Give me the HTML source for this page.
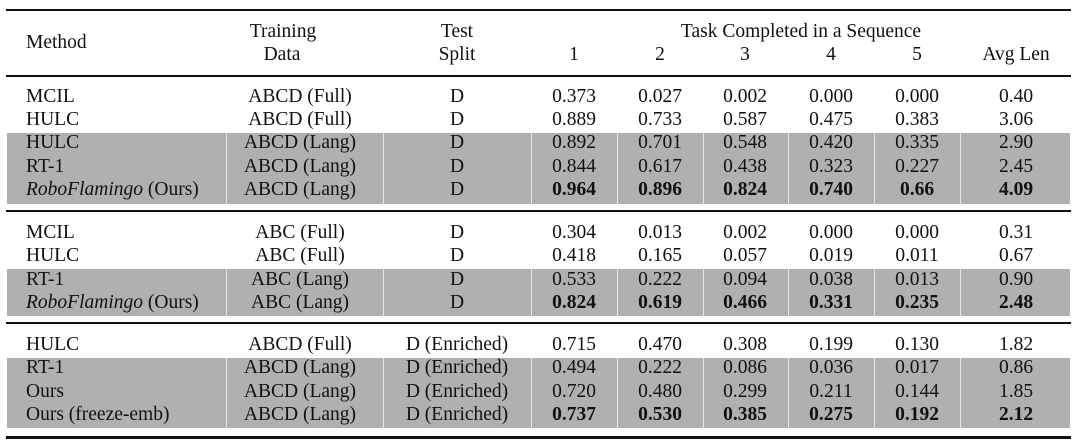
<!DOCTYPE html>
<html><head><meta charset="utf-8"><style>
body{margin:0;background:#fff;}
#t{position:relative;width:1080px;height:445px;font-family:"Liberation Serif",serif;font-size:19.5px;color:#111;overflow:hidden}
.c{position:absolute;height:24px;line-height:24px;white-space:nowrap;transform:translateX(-50%)}
.l{position:absolute;height:24px;line-height:24px;white-space:nowrap}
.rule{position:absolute;left:6px;width:1065px;background:#111}
.gray{position:absolute;left:7px;width:1063px;background:#b0b0b0}
.sep{position:absolute;width:1px;background:#e8e8e8}
b{font-weight:bold}
</style></head><body>
<div id="t">
<div class="rule" style="top:9px;height:2px"></div>
<div class="rule" style="top:75px;height:2px"></div>
<div class="rule" style="top:210px;height:2px"></div>
<div class="rule" style="top:322px;height:2px"></div>
<div class="rule" style="top:436px;height:3px"></div>
<div class="l" style="left:26px;top:31px">Method</div>
<div class="c" style="left:283px;top:20px">Training</div>
<div class="c" style="left:282px;top:43px">Data</div>
<div class="c" style="left:457px;top:20px">Test</div>
<div class="c" style="left:457px;top:43px">Split</div>
<div class="c" style="left:801px;top:20px">Task Completed in a Sequence</div>
<div class="c" style="left:574px;top:43px">1</div>
<div class="c" style="left:660px;top:43px">2</div>
<div class="c" style="left:745px;top:43px">3</div>
<div class="c" style="left:831px;top:43px">4</div>
<div class="c" style="left:917px;top:43px">5</div>
<div class="c" style="left:1016px;top:43px">Avg Len</div>
</div>
<script>
const methods=["MCIL","HULC","HULC","RT-1","<i>RoboFlamingo</i> (Ours)","MCIL","HULC","RT-1","<i>RoboFlamingo</i> (Ours)","HULC","RT-1","Ours","Ours (freeze-emb)"];
const trainData=["ABCD (Full)","ABCD (Full)","ABCD (Lang)","ABCD (Lang)","ABCD (Lang)","ABC (Full)","ABC (Full)","ABC (Lang)","ABC (Lang)","ABCD (Full)","ABCD (Lang)","ABCD (Lang)","ABCD (Lang)"];
const testSplit=["D","D","D","D","D","D","D","D","D","D (Enriched)","D (Enriched)","D (Enriched)","D (Enriched)"];
const task1=["0.373","0.889","0.892","0.844","0.964","0.304","0.418","0.533","0.824","0.715","0.494","0.720","0.737"];
const task2=["0.027","0.733","0.701","0.617","0.896","0.013","0.165","0.222","0.619","0.470","0.222","0.480","0.530"];
const task3=["0.002","0.587","0.548","0.438","0.824","0.002","0.057","0.094","0.466","0.308","0.086","0.299","0.385"];
const task4=["0.000","0.475","0.420","0.323","0.740","0.000","0.019","0.038","0.331","0.199","0.036","0.211","0.275"];
const task5=["0.000","0.383","0.335","0.227","0.66","0.000","0.011","0.013","0.235","0.130","0.017","0.144","0.192"];
const avgLen=["0.40","3.06","2.90","2.45","4.09","0.31","0.67","0.90","2.48","1.82","0.86","1.85","2.12"];
const boldRows=[4,8,12];
const rowY=[97,120,143,167,190,233,256,280,303,345,368,392,415];
const grayBands=[[133,204],[269,316],[358,428]];
const sepX=[226,383,531,617,703,788,874,960];
const colX=[574,660,745,831,917,1016];
const t=document.getElementById('t');
grayBands.forEach((g,i)=>{
  const d=document.createElement('div');d.className='gray';
  
  
  d.style.top=g[0]+'px';d.style.height=(g[1]-g[0])+'px';t.insertBefore(d,t.firstChild);
  sepX.forEach(x=>{const s=document.createElement('div');s.className='sep';
    
    
    s.style.left=x+'px';s.style.top=g[0]+'px';s.style.height=(g[1]-g[0])+'px';t.insertBefore(s,d.nextSibling);});
});
function cell(cls,x,y,html,name){const d=document.createElement('div');d.className=cls;d.style.left=x+'px';d.style.top=(y-12)+'px';d.innerHTML=html;
  
  
  t.appendChild(d);}
methods.forEach((m,i)=>{
  const y=rowY[i];const bold=boldRows.includes(i);
  cell('l',26,y,m,'method-cell');
  cell('c',300,y,trainData[i],'training-data-cell');
  cell('c',457,y,testSplit[i],'test-split-cell');
  [task1,task2,task3,task4,task5,avgLen].forEach((arr,j)=>{
    cell('c',colX[j],y,bold?'<b>'+arr[i]+'</b>':arr[i],'value-cell');
  });
});
</script>
</body></html>
